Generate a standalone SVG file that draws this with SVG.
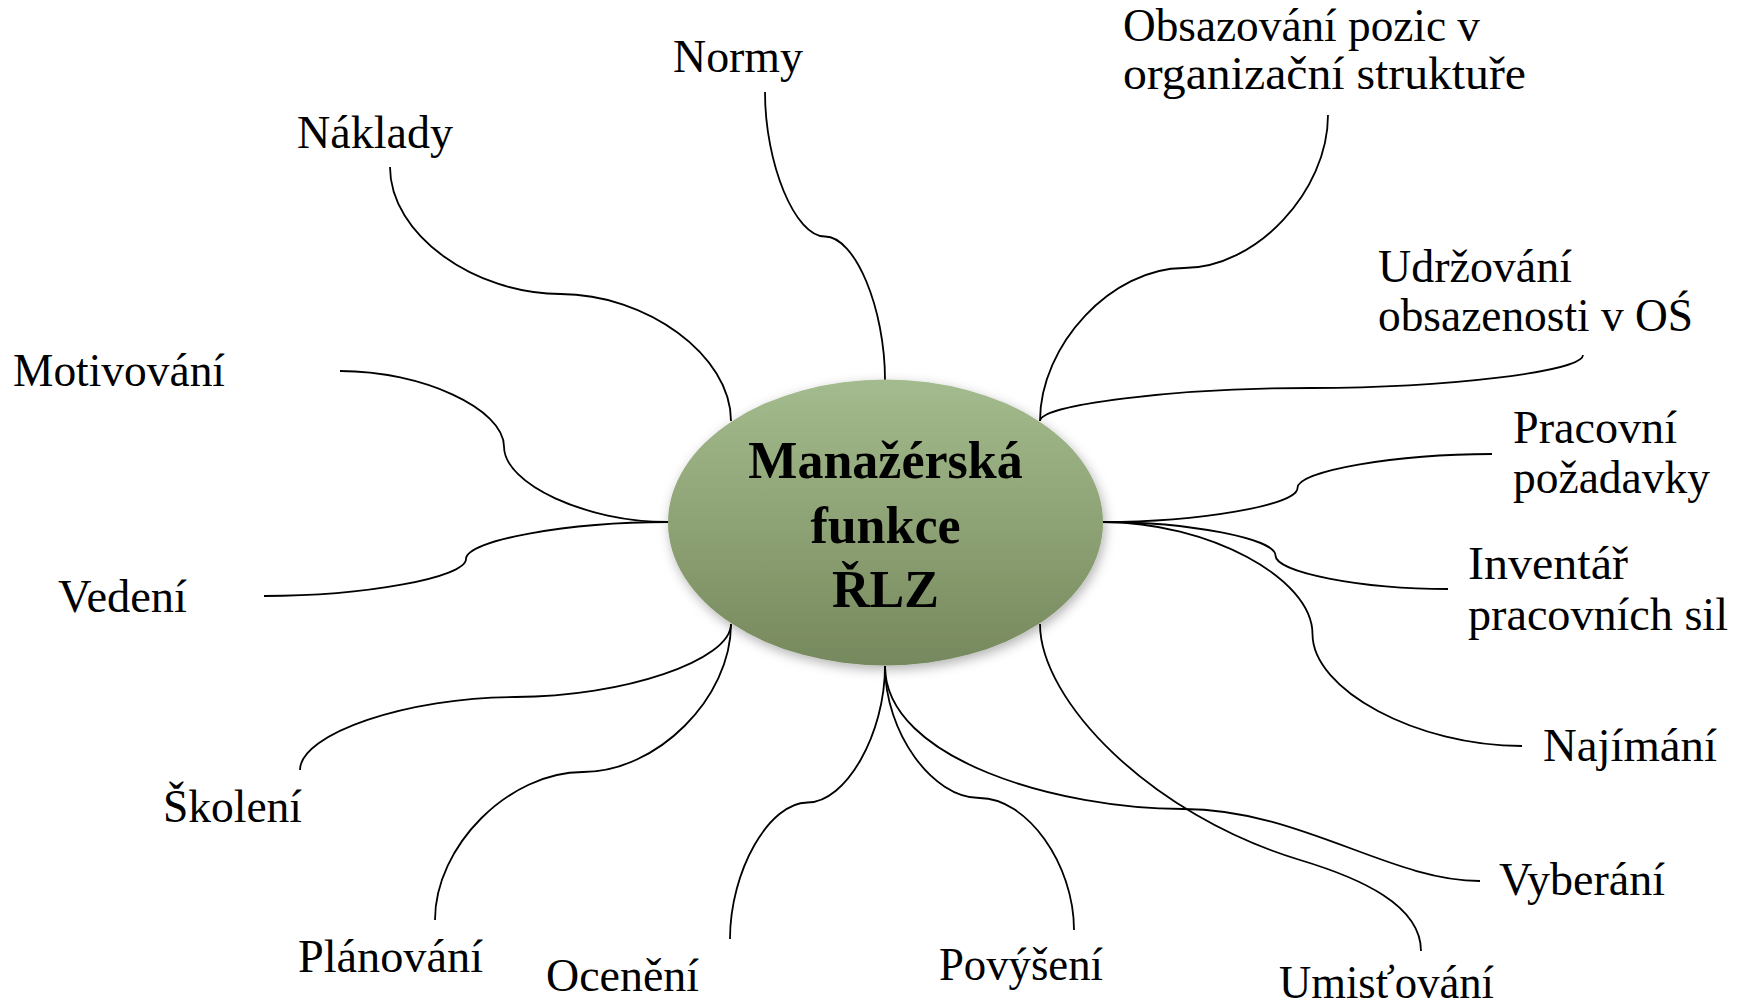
<svg xmlns="http://www.w3.org/2000/svg" width="1746" height="1008" viewBox="0 0 1746 1008">
  <defs>
    <linearGradient id="hubFill" x1="0" y1="0" x2="0" y2="1">
      <stop offset="0" stop-color="#a3bb8e"/>
      <stop offset="0.5" stop-color="#8ea375"/>
      <stop offset="1" stop-color="#76885d"/>
    </linearGradient>
    <filter id="hubShadow" x="-20%" y="-20%" width="140%" height="150%">
      <feDropShadow dx="2" dy="4" stdDeviation="6" flood-color="#000" flood-opacity="0.3"/>
    </filter>
    <style>
      .link { fill: none; stroke: #000; stroke-width: 1.8; }
      .label { font-family: "Liberation Serif", "Times New Roman", serif; font-size: 46px; fill: #000; }
      .hub-text { font-family: "Liberation Serif", "Times New Roman", serif; font-size: 52px; font-weight: bold; fill: #000; text-anchor: middle; }
    </style>
  </defs>

  <rect width="1746" height="1008" fill="#fff"/>

  <!-- curved connectors from the hub to each function -->
  <g id="connectors">
    <path class="link" d="M765,92 C765,164 795,236.5 825,236.5 C855,236.5 885,308 885,380"/>
    <path class="link" d="M390,167 C390,235 475,294 560.5,294 C646,294 731,355 731,421"/>
    <path class="link" d="M1328,115 C1328,191.5 1256,268 1184,268 C1112,268 1040,344.5 1040,421"/>
    <path class="link" d="M1040,421 C1040,404.5 1176,388 1311.5,388 C1447,388 1583,371.5 1583,355"/>
    <path class="link" d="M340,371 C422,371 504,408.75 504,446.5 C504,484.25 586,522 668,522"/>
    <path class="link" d="M264,596 C365,596 466,577.5 466,559 C466,540.5 567,522 668,522"/>
    <path class="link" d="M1103,522 C1200,522 1297.5,505 1297.5,488 C1297.5,471 1395,454 1492,454"/>
    <path class="link" d="M1103,522 C1189,522 1275.5,538.75 1275.5,555.5 C1275.5,572.25 1361,589 1448,589"/>
    <path class="link" d="M1103,522 C1208,522 1312.5,578 1312.5,634 C1312.5,690 1417,746 1522,746"/>
    <path class="link" d="M885,666 C885,760 1060,809 1183,809 C1300,809 1390,881 1480,881"/>
    <path class="link" d="M1040,624 C1040,700 1150,815 1300,860 C1360,878 1421,905 1421,951"/>
    <path class="link" d="M885,666 C885,732 932,798 979.5,798 C1027,798 1074,864 1074,930"/>
    <path class="link" d="M885,666 C885,734 846,802.5 807.5,802.5 C769,802.5 730,871 730,939"/>
    <path class="link" d="M731,624 C731,698 657,772 583,772 C509,772 435,846 435,920"/>
    <path class="link" d="M731,624 C731,660.5 623,697 515.5,697 C408,697 300,733.5 300,770"/>
  </g>

  <g id="node-hub">
    <ellipse cx="885.5" cy="522.5" rx="217.5" ry="143" fill="url(#hubFill)" filter="url(#hubShadow)"/>
    <text class="hub-text" x="885.5" y="478">Manažérská</text>
    <text class="hub-text" x="885.5" y="543">funkce</text>
    <text class="hub-text" x="885.5" y="607">ŘLZ</text>
  </g>

  <g id="node-normy"><text class="label" x="673" y="72" textLength="130" lengthAdjust="spacingAndGlyphs">Normy</text></g>
  <g id="node-naklady"><text class="label" x="297" y="148" textLength="156" lengthAdjust="spacingAndGlyphs">Náklady</text></g>
  <g id="node-obsazovani">
    <text class="label" x="1123" y="41" textLength="357" lengthAdjust="spacingAndGlyphs">Obsazování pozic v</text>
    <text class="label" x="1123" y="89" textLength="403" lengthAdjust="spacingAndGlyphs">organizační struktuře</text>
  </g>
  <g id="node-udrzovani">
    <text class="label" x="1378" y="282" textLength="194" lengthAdjust="spacingAndGlyphs">Udržování</text>
    <text class="label" x="1378" y="331" textLength="315" lengthAdjust="spacingAndGlyphs">obsazenosti v OŚ</text>
  </g>
  <g id="node-pracovni">
    <text class="label" x="1513" y="443" textLength="164" lengthAdjust="spacingAndGlyphs">Pracovní</text>
    <text class="label" x="1513" y="493" textLength="197" lengthAdjust="spacingAndGlyphs">požadavky</text>
  </g>
  <g id="node-inventar">
    <text class="label" x="1468" y="579" textLength="160" lengthAdjust="spacingAndGlyphs">Inventář</text>
    <text class="label" x="1468" y="630" textLength="260" lengthAdjust="spacingAndGlyphs">pracovních sil</text>
  </g>
  <g id="node-najimani"><text class="label" x="1543" y="761" textLength="174" lengthAdjust="spacingAndGlyphs">Najímání</text></g>
  <g id="node-vyberani"><text class="label" x="1499" y="895" textLength="166" lengthAdjust="spacingAndGlyphs">Vyberání</text></g>
  <g id="node-umistovani"><text class="label" x="1279" y="998" textLength="215" lengthAdjust="spacingAndGlyphs">Umisťování</text></g>
  <g id="node-povyseni"><text class="label" x="939" y="980" textLength="164" lengthAdjust="spacingAndGlyphs">Povýšení</text></g>
  <g id="node-oceneni"><text class="label" x="546" y="991" textLength="153" lengthAdjust="spacingAndGlyphs">Ocenění</text></g>
  <g id="node-planovani"><text class="label" x="298" y="972" textLength="185" lengthAdjust="spacingAndGlyphs">Plánování</text></g>
  <g id="node-skoleni"><text class="label" x="163" y="822" textLength="139" lengthAdjust="spacingAndGlyphs">Školení</text></g>
  <g id="node-vedeni"><text class="label" x="58" y="612" textLength="129" lengthAdjust="spacingAndGlyphs">Vedení</text></g>
  <g id="node-motivovani"><text class="label" x="13" y="386" textLength="212" lengthAdjust="spacingAndGlyphs">Motivování</text></g>
</svg>
